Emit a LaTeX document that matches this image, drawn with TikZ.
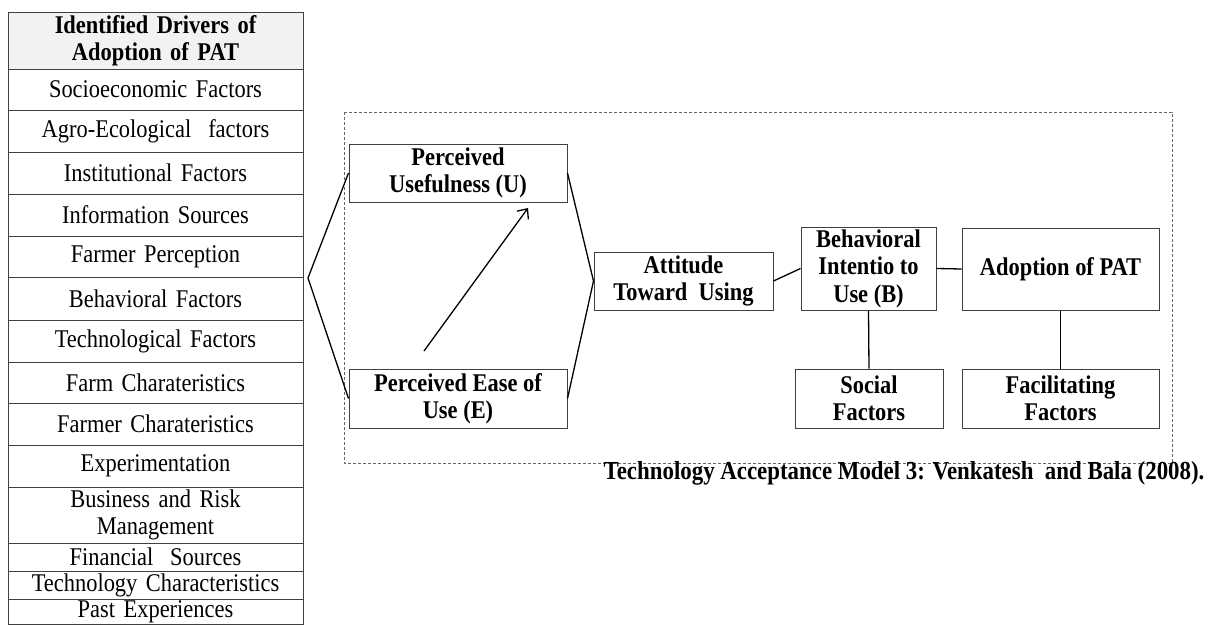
\documentclass[tikz,border=0pt]{standalone}
\usepackage{fontspec}
\setmainfont[FakeStretch=0.88]{Liberation Serif}
\usepackage{tikz}
\usetikzlibrary{arrows.meta, calc, positioning}

\begin{document}
\begin{tikzpicture}[x=1pt, y=-1pt,
  row/.style={draw=black!75, line width=1pt, text width=295pt, inner sep=0pt,
    outer sep=0pt, align=center, font=\fontsize{25.5}{27.5}\selectfont},
  model/.style={draw=black!75, line width=1pt, inner sep=0pt, align=center,
    font=\bfseries\fontsize{25.5}{27.5}\selectfont},
  link/.style={line width=1.3pt}]
\useasboundingbox (0,0) rectangle (1221,624);
% drivers table
\node[row, fill=black!5, minimum height=57pt, anchor=north west,
  font=\bfseries\fontsize{25.5}{27.5}\selectfont] (head) at (8,12)
  {Identified Drivers of\\ Adoption of PAT};
\node[row, minimum height=41pt, below=0pt of head] (socio) {Socioeconomic Factors};
\node[row, minimum height=42pt, below=0pt of socio] (agro) {Agro-Ecological~ factors};
\node[row, minimum height=42pt, below=0pt of agro] (inst) {Institutional Factors};
\node[row, minimum height=42pt, below=0pt of inst] (info) {Information Sources};
\node[row, minimum height=41pt, below=0pt of info] (perc) {Farmer Perception};
\node[row, minimum height=43pt, below=0pt of perc] (behav) {Behavioral Factors};
\node[row, minimum height=42pt, below=0pt of behav] (techn) {Technological Factors};
\node[row, minimum height=41pt, below=0pt of techn] (farm) {Farm Charateristics};
\node[row, minimum height=42pt, below=0pt of farm] (farmer) {Farmer Charateristics};
\node[row, minimum height=42pt, below=0pt of farmer] (exper) {Experimentation};
\node[row, minimum height=56pt, below=0pt of exper] (risk) {Business and Risk\\ Management};
\node[row, minimum height=28pt, below=0pt of risk] (fin) {Financial~ Sources};
\node[row, minimum height=28pt, below=0pt of fin] (techc) {Technology Characteristics};
\node[row, minimum height=25pt, below=0pt of techc] (past) {Past Experiences};
% TAM 3
\draw[dashed, dash pattern=on 3pt off 2pt, black!60, line width=0.8pt] (344,112) rectangle (1172,463);
\node[model, minimum width=218pt, minimum height=58pt] (PU) at (458,173) {Perceived\\ Usefulness (U)};
\node[model, minimum width=218pt, minimum height=59pt] (PE) at (458,398.5) {Perceived Ease of\\ Use (E)};
\node[model, minimum width=179pt, minimum height=58pt] (ATU) at (683.5,281) {Attitude\\ Toward~ Using};
\node[model, minimum width=135pt, minimum height=83pt] (BI) at (868.5,268.5) {Behavioral\\ Intentio to\\ Use (B)};
\node[model, minimum width=197pt, minimum height=82pt] (AP) at (1060.5,269) {Adoption of PAT};
\node[model, minimum width=148pt, minimum height=59pt] (SF) at (869,398.5) {Social\\ Factors};
\node[model, minimum width=197pt, minimum height=59pt] (FF) at (1060.5,398.5) {Facilitating\\ Factors};
\coordinate (fork) at (308,278);
\coordinate (peTip) at (424,351);
\coordinate (puTip) at (528,208);
\draw[link] (PU.west) -- (fork) -- (PE.west);
\draw[link] (PU.east) -- (ATU.west) -- (PE.east);
\draw[link] (ATU.east) -- (BI.west);
\draw[link] (BI.east) -- (AP.west);
\draw[link] (BI.south) -- (SF.north);
\draw[link] (AP.south) -- (FF.north);
\draw[link, -{Straight Barb[length=8pt, width=14pt]}] (peTip) -- (puTip);
\path
(1208,479) node[anchor=base east, font=\bfseries\fontsize{26}{27.5}\selectfont] (cap)
  {Technology Acceptance Model 3: Venkatesh~ and Bala (2008).};
\end{tikzpicture}
\end{document}
